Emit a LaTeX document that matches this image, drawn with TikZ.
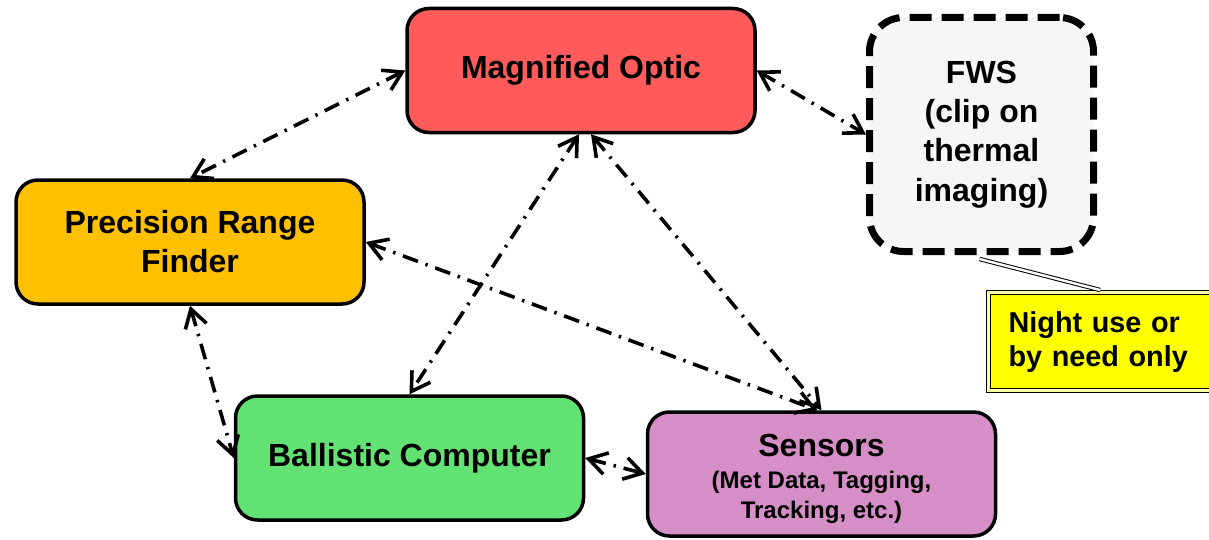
\documentclass[tikz,border=0pt]{standalone}
\usepackage{fontspec}
\setmainfont{Liberation Sans}
\usetikzlibrary{arrows.meta}
\definecolor{optic}{HTML}{FF5B5B}
\definecolor{prf}{HTML}{FFC000}
\definecolor{ballistic}{HTML}{62E273}
\definecolor{sensor}{HTML}{D58FC6}
\definecolor{fwsfill}{HTML}{F6F6F6}
\definecolor{notefill}{HTML}{FFFF00}
\tikzset{
  unitbox/.style={draw=black, line width=1.75pt, rounded corners=11pt,
    align=center, font=\bfseries\fontsize{16}{19.5}\selectfont,
    minimum width=174pt, minimum height=62pt, inner sep=2pt},
  fwsbox/.style={draw=black, line width=3.5pt, rounded corners=17pt,
    dash pattern=on 11pt off 5pt, fill=fwsfill, align=center,
    font=\bfseries\fontsize{16}{19.6}\selectfont,
    minimum width=112pt, minimum height=117pt},
  notebox/.style={draw=black, line width=0.6pt, double=notefill!35,
    double distance=1.2pt, fill=notefill, align=left,
    font=\bfseries\fontsize{14.4}{17}\selectfont,
    minimum width=120pt, minimum height=49pt, text width=100pt,
    inner xsep=10pt, anchor=north west},
  link/.style={line width=1.8pt, dash pattern=on 8pt off 4pt on 1.2pt off 4pt,
    {Straight Barb[length=9pt,width=11pt]}-{Straight Barb[length=9pt,width=11pt]}},
  callout/.style={draw=black, line width=0.5pt, double=white, double distance=1.2pt}
}
\begin{document}
\begin{tikzpicture}[x=0.5pt,y=-0.5pt]
  \clip (0,0) rectangle (1209,540);
  \fill[white] (0,0) rectangle (1209,540);

  % components
  \node[unitbox, fill=optic] (optic) at (581,70.5) {Magnified Optic};
  \node[unitbox, fill=prf] (prf) at (190,242) {Precision Range\\Finder};
  \node[unitbox, fill=ballistic] (bc) at (409.5,458) {Ballistic Computer};
  \node[unitbox, fill=sensor] (sens) at (821.5,474)
    {\rule{0pt}{16.5pt}Sensors\\[-3.5pt]{\fontsize{12}{14.5}\selectfont (Met Data, Tagging,}\\[-4.5pt]
     {\fontsize{12}{14.5}\selectfont Tracking, etc.)}};
  \node[fwsbox] (fws) at (981.5,134.5) {FWS\\(clip on\\thermal\\imaging)};
  \node[notebox] (note) at (988,292) {Night use or\\by need only};

  % callout from the clip-on sight to its note
  \draw[callout] ([xshift=-1pt,yshift=-2pt]fws.south) -- ([xshift=56pt,yshift=1pt]note.north west);

  % data links
  \draw[link] (optic.west) -- (prf.north);
  \draw[link] (optic.east) -- (fws.west);
  \draw[link] ([xshift=-1pt]optic.south) -- (bc.north);
  \draw[link] ([xshift=5pt]optic.south) -- (sens.north);
  \draw[link] (prf.east) -- ([xshift=-2pt]sens.north);
  \draw[link] (prf.south) -- (bc.west);
  \draw[link] (bc.east) -- (sens.west);
\end{tikzpicture}
\end{document}
